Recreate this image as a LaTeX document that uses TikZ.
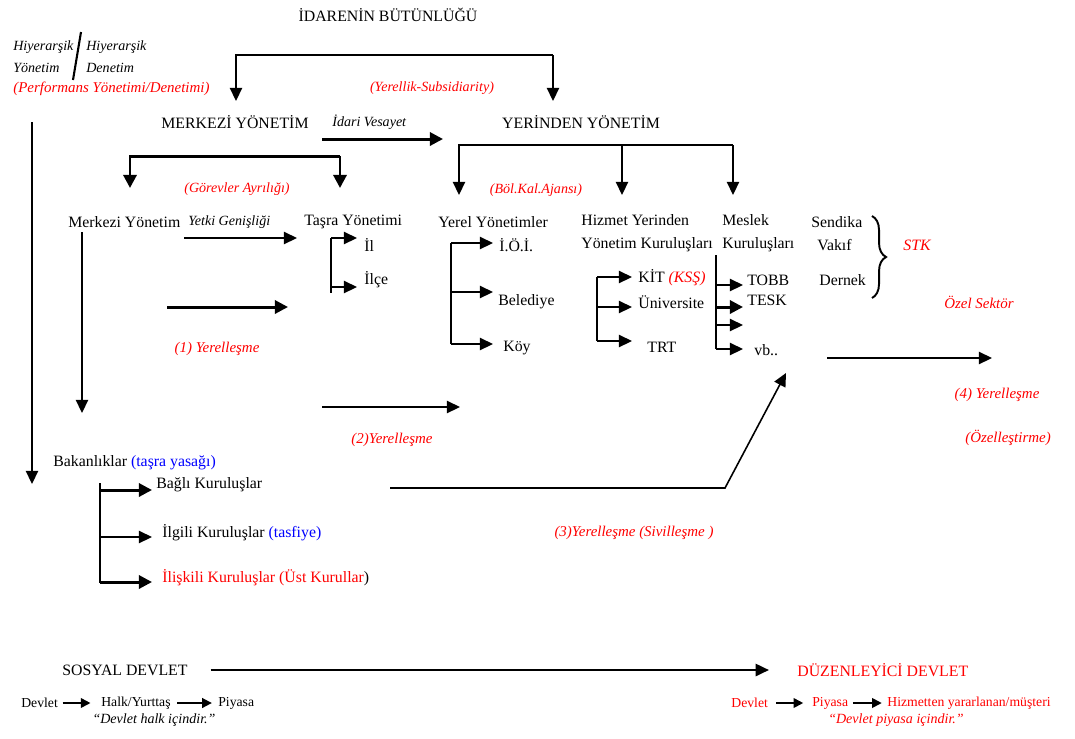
\documentclass[tikz,border=0pt]{standalone}
\usepackage{fontspec}
\setmainfont{Liberation Serif}
\usetikzlibrary{arrows.meta,decorations.pathreplacing}
\tikzset{
	ok/.style={-{Triangle[length=7.5pt,width=7pt]},line width=0.9pt},
	kalinok/.style={-{Triangle[length=7.5pt,width=7.5pt]},line width=1.7pt},
	kucukok/.style={-{Triangle[length=5.5pt,width=5.5pt]},line width=1pt},
	yazi/.style={inner sep=0pt,anchor=west,font=\fontsize{9}{13}\selectfont},
	baslik/.style={inner sep=0pt,font=\fontsize{9}{11}\selectfont},
	egik/.style={inner sep=0pt,anchor=west,font=\fontsize{8}{12.5}\selectfont\itshape},
	kirmizi/.style={inner sep=0pt,text=red,font=\fontsize{8.5}{10}\selectfont\itshape},
	altyazi/.style={inner sep=0pt,anchor=west,font=\fontsize{7.8}{9}\selectfont},
}
\begin{document}
\begin{tikzpicture}[x=0.02cm,y=-0.02cm]
	\useasboundingbox (0,0) rectangle (1075,738);

	% ust baslik ve catal
	\node[baslik] (idare) at (388,15) {İDARENİN BÜTÜNLÜĞÜ};
	\node[baslik] (merk) at (235,122) {MERKEZİ YÖNETİM};
	\node[baslik] (yer) at (581,122) {YERİNDEN YÖNETİM};
	\coordinate (c1) at (236,55);
	\coordinate (c2) at (553,55);
	\coordinate (c1u) at (236,101);
	\coordinate (c2u) at (553,101);
	\draw[ok] (c2) -| (c1u);
	\draw[ok] (c2) -- (c2u);

	% sol ust
	\node[egik,align=left] (hy1) at (13,57) {Hiyerarşik\\Yönetim};
	\node[egik,align=left] (hy2) at (86,57) {Hiyerarşik\\Denetim};
	\draw[line width=1.2pt] (73,80) -- (81,32);
	\node[kirmizi,anchor=west] (perf) at (13,89) {(Performans Yönetimi/Denetimi)};
	\coordinate (s1) at (32,122);
	\coordinate (s2) at (32,484);
	\draw[ok] (s1) -- (s2);

	\node[kirmizi,font=\fontsize{8}{10}\selectfont\itshape] (subs) at (432,88) {(Yerellik-Subsidiarity)};
	\node[egik] (ves) at (332,122) {İdari Vesayet};
	\coordinate (v1) at (322,139);
	\coordinate (v2) at (443,139);
	\draw[kalinok] (v1) -- (v2);

	% merkezi catal
	\coordinate (m1u) at (130,188);
	\coordinate (m2) at (340,156);
	\coordinate (m2u) at (340,188);
	\draw[kalinok] (m2) -| (m1u);
	\draw[kalinok] (m2) -- (m2u);

	% yerinden catal
	\coordinate (y1u) at (459,195);
	\coordinate (y2) at (622,145);
	\coordinate (y2u) at (622,195);
	\coordinate (y3) at (733,145);
	\coordinate (y3u) at (733,195);
	\draw[ok] (y3) -| (y1u);
	\draw[ok] (y2) -- (y2u);
	\draw[ok] (y3) -- (y3u);

	\node[kirmizi,font=\fontsize{8}{10}\selectfont\itshape] (gorev) at (237,189) {(Görevler Ayrılığı)};
	\node[kirmizi,font=\fontsize{8}{10}\selectfont\itshape] (bolge) at (536,190) {(Böl.Kal.Ajansı)};

	% merkezi yonetim kolu
	\node[yazi] (mkz) at (68,222) {Merkezi Yönetim};
	\node[egik] (yetki) at (188,222) {Yetki Genişliği};
	\node[yazi] (tasra) at (304,222) {Taşra Yönetimi};
	\coordinate (g1) at (184,238);
	\coordinate (g2) at (297,238);
	\draw[ok] (g1) -- (g2);
	\node[yazi] (il) at (364,245) {İl};
	\node[yazi] (ilce) at (364,280) {İlçe};
	\coordinate (t1) at (331,238);
	\coordinate (t2) at (331,293);
	\coordinate (t3) at (331,287);
	\coordinate (tuc) at (357,0);
	\draw[line width=0.9pt] (t1) -- (t2);
	\draw[ok] (t1) -- (t1 -| tuc);
	\draw[ok] (t3) -- (t3 -| tuc);

	\coordinate (e1) at (167,307);
	\coordinate (e2) at (288,307);
	\draw[kalinok] (e1) -- (e2);
	\node[kirmizi] (yer1) at (217,349) {(1) Yerelleşme};
	\coordinate (d1) at (82,232);
	\coordinate (d2) at (82,413);
	\draw[ok] (d1) -- (d2);
	\coordinate (f1) at (322,407);
	\coordinate (f2) at (460,407);
	\draw[ok] (f1) -- (f2);
	\node[kirmizi] (yer2) at (392,440) {(2)Yerelleşme};

	% bakanliklar
	\node[yazi] (bak) at (53,463) {Bakanlıklar \textcolor{blue}{(taşra yasağı)}};
	\node[yazi] (bagli) at (156,485) {Bağlı Kuruluşlar};
	\node[yazi] (ilgili) at (162,533) {İlgili Kuruluşlar \textcolor{blue}{(tasfiye)}};
	\node[yazi] (iliskili) at (162,578) {\textcolor{red}{İlişkili Kuruluşlar (Üst Kurullar})};
	\coordinate (b1) at (100,483);
	\coordinate (b2) at (100,583);
	\coordinate (b3) at (100,490);
	\coordinate (b4) at (100,537);
	\coordinate (b5) at (100,582);
	\coordinate (buc) at (152,0);
	\draw[line width=1.2pt] (b1) -- (b2);
	\draw[kalinok] (b3) -- (b3 -| buc);
	\draw[ok] (b4) -- (b4 -| buc);
	\draw[kalinok] (b5) -- (b5 -| buc);

	% (3) sivillesme
	\coordinate (h1) at (390,488);
	\coordinate (h2) at (725,488);
	\coordinate (h3) at (786,373);
	\draw[ok] (h1) -- (h2) -- (h3);
	\node[kirmizi] (yer3) at (634,533) {(3)Yerelleşme (Sivilleşme )};

	% yerel yonetimler
	\node[yazi] (yerel) at (438,222) {Yerel Yönetimler};
	\node[yazi] (ioi) at (499,245) {İ.Ö.İ.};
	\node[yazi] (bel) at (498,302) {Belediye};
	\node[yazi] (koy) at (503,348) {Köy};
	\coordinate (r1) at (451,243);
	\coordinate (r2) at (451,292);
	\coordinate (r3) at (451,344);
	\coordinate (ruc) at (493,0);
	\draw[line width=0.9pt] (r1) -- (r3);
	\foreach \k in {r1,r2,r3}
		\draw[ok] (\k) -- (\k -| ruc);

	% hizmet yerinden
	\node[yazi,align=left] (hiz) at (581,233.5) {Hizmet Yerinden\\Yönetim Kuruluşları};
	\node[yazi] (kit) at (638,278) {KİT \textcolor{red}{\itshape (KSŞ)}};
	\node[yazi] (uni) at (638,302) {Üniversite};
	\node[yazi] (trt) at (647,347) {TRT};
	\coordinate (k1) at (597,277);
	\coordinate (k2) at (597,307);
	\coordinate (k3) at (597,341);
	\coordinate (kuc) at (632,0);
	\draw[line width=0.9pt] (k1) -- (k3);
	\foreach \k in {k1,k2,k3}
		\draw[ok] (\k) -- (\k -| kuc);

	% meslek kuruluslari
	\node[yazi,align=left] (mes) at (722,233.5) {Meslek\\Kuruluşları};
	\node[yazi] (tobb) at (747,280) {TOBB};
	\node[yazi] (tesk) at (747,300) {TESK};
	\node[yazi] (vb) at (754,350) {vb..};
	\coordinate (n0) at (716,255);
	\coordinate (n1) at (716,285);
	\coordinate (n2) at (716,307);
	\coordinate (n3) at (716,325);
	\coordinate (n4) at (716,349);
	\coordinate (nuc) at (743,0);
	\draw[line width=0.9pt] (n0) -- (n4);
	\draw[ok] (n1) -- (n1 -| nuc);
	\draw[kalinok] (n2) -- (n2 -| nuc);
	\draw[ok] (n3) -- (n3 -| nuc);
	\draw[ok] (n4) -- (n4 -| nuc);

	% stk
	\node[yazi] (sen) at (811,222) {Sendika};
	\node[yazi] (vak) at (817,245) {Vakıf};
	\node[yazi] (der) at (819,280) {Dernek};
	\coordinate (p1) at (872,216);
	\coordinate (p2) at (872,298);
	\draw[decorate,decoration={brace,amplitude=8pt},line width=1.1pt] (p1) -- (p2);
	\node[kirmizi,anchor=west,font=\fontsize{9}{10}\selectfont\itshape] (stk) at (903,245) {STK};
	\node[kirmizi,anchor=west] (ozel) at (944,302) {Özel Sektör};
	\coordinate (o1) at (827,358);
	\coordinate (o2) at (992,358);
	\draw[ok] (o1) -- (o2);
	\node[kirmizi] (yer4) at (997,395) {(4) Yerelleşme};
	\node[kirmizi] (ozl) at (1008,438) {(Özelleştirme)};

	% alt satir
	\node[baslik,anchor=west] (sos) at (62,670) {SOSYAL DEVLET};
	\node[baslik,anchor=west,text=red] (duz) at (797,670) {DÜZENLEYİCİ DEVLET};
	\draw[ok,shorten <=13pt,shorten >=16pt] (sos.east) -- (sos.east -| duz.west);
	\node[altyazi] (dv1) at (21,703) {Devlet};
	\node[altyazi] (halk) at (101,703) {Halk/Yurttaş};
	\node[altyazi] (piy1) at (218,703) {Piyasa};
	\draw[kucukok,shorten <=2.5pt,shorten >=6pt] (dv1.east) -- (dv1.east -| halk.west);
	\draw[kucukok,shorten <=3.5pt,shorten >=3.5pt] (halk.east |- dv1.east) -- (dv1.east -| piy1.west);
	\node[egik,anchor=center] (soz1) at (154,720) {``Devlet halk içindir.''};
	\node[altyazi,text=red] (dv2) at (731,703) {Devlet};
	\node[altyazi,text=red] (piy2) at (812,703) {Piyasa};
	\node[altyazi,text=red] (muh) at (887,703) {Hizmetten yararlanan/müşteri};
	\draw[kucukok,shorten <=4.5pt,shorten >=5pt] (dv2.east) -- (dv2.east -| piy2.west);
	\draw[kucukok,shorten <=2.5pt,shorten >=3pt] (piy2.east |- dv2.east) -- (dv2.east -| muh.west);
	\node[egik,anchor=center,text=red] (soz2) at (896,720) {``Devlet piyasa içindir.''};
\end{tikzpicture}
\end{document}
